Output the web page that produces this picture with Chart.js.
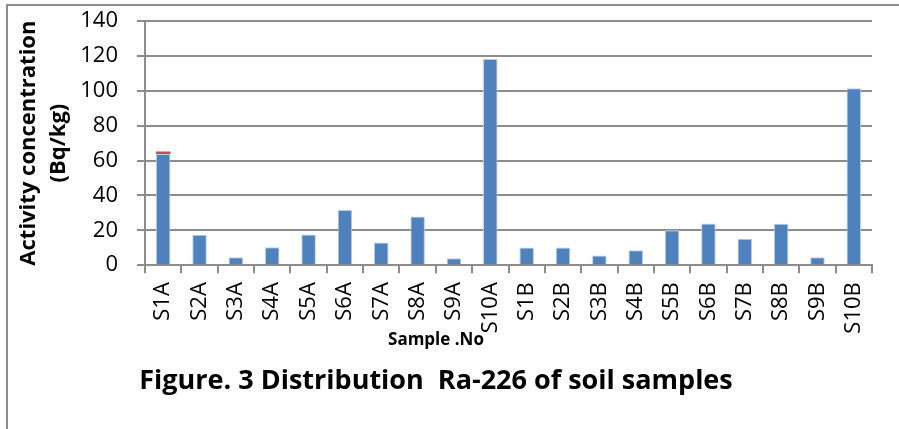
<!DOCTYPE html>
<html>
<head>
<meta charset="utf-8">
<script src="https://cdn.jsdelivr.net/npm/chart.js@4"></script>
<style>
  html,body{margin:0;padding:0;background:#fff;overflow:hidden}
  #wrap{position:relative;width:899px;height:429px}
  #frame{position:absolute;left:6px;top:4px;width:1000px;height:1000px;border:2px solid #8c8c8c}
  canvas{position:absolute;left:0;top:0}
</style>
</head>
<body>
<div id="wrap">
  <div id="frame"></div>
  <canvas id="ch" width="899" height="429"></canvas>
</div>
<script>
/* datos */
const muestras = ['S1A','S2A','S3A','S4A','S5A','S6A','S7A','S8A','S9A','S10A',
                  'S1B','S2B','S3B','S4B','S5B','S6B','S7B','S8B','S9B','S10B'];
const ra226 = [63.7,17.4,4.6,10.3,17.6,31.7,13.0,27.9,4.0,118.2,
               10.2,10.2,5.5,8.6,20.1,23.9,15.1,23.7,4.6,101.4];
const extra = [1.5,0,0,0,0,0,0,0,0,0,0,0,0,0,0,0,0,0,0,0];
const yTicks = [0,20,40,60,80,100,120,140];

const FONT = '"Open Sans", sans-serif';
const GRIS = '#8c8c8c';

new Chart(document.getElementById('ch'),{
  type:'bar',
  data:{labels:muestras,datasets:[
    {label:'Ra-226',data:ra226,backgroundColor:'#4F81BD',borderColor:'#b9cde5',borderWidth:{top:1,left:1,right:1,bottom:0},
     barPercentage:0.4,categoryPercentage:1},
    {label:'extra',data:extra,backgroundColor:'#C0504D',barPercentage:0.4,categoryPercentage:1}
  ]},
  options:{
    responsive:false,animation:false,
    layout:{padding:{left:0,right:27,top:21,bottom:0}},
    plugins:{
      legend:{display:false},tooltip:{enabled:false},
      // el título del eje X va como subtítulo para quedar centrado como en la figura
      subtitle:{display:true,position:'bottom',text:'Sample .No',color:'#000',
        font:{family:FONT,size:17,weight:'bold',lineHeight:1.2},padding:{top:-5,bottom:0}},
      title:{display:true,position:'bottom',text:'Figure. 3 Distribution  Ra-226 of soil samples',
        color:'#000',font:{family:FONT,size:27,weight:'bold',lineHeight:1.2},padding:{top:15,bottom:31}}
    },
    scales:{
      x:{stacked:true,
        grid:{offset:true,drawOnChartArea:false,drawTicks:true,tickLength:8,color:GRIS,lineWidth:2},
        border:{color:GRIS,width:2},
        ticks:{color:'#000',font:{family:FONT,size:22},minRotation:90,maxRotation:90,padding:9,autoSkip:false},
        afterFit:s=>{s.height=70;}
      },
      y:{stacked:true,min:0,max:140,
        afterBuildTicks:s=>{s.ticks=yTicks.map(v=>({value:v}));},
        grid:{color:GRIS,lineWidth:2,tickLength:8},
        border:{color:GRIS,width:2},
        ticks:{color:'#000',font:{family:FONT,size:22},padding:19},
        title:{display:true,text:['Activity concentration','(Bq/kg)'],color:'#000',
          font:{family:FONT,size:22,weight:'bold',lineHeight:1.36},padding:{top:14,bottom:0}},
        // el padding de las etiquetas no debe empujar el área del gráfico
        afterFit:s=>{s.width=145;s.paddingTop=0;s.paddingBottom=0;}
      }
    }
  }
});
</script>
</body>
</html>
